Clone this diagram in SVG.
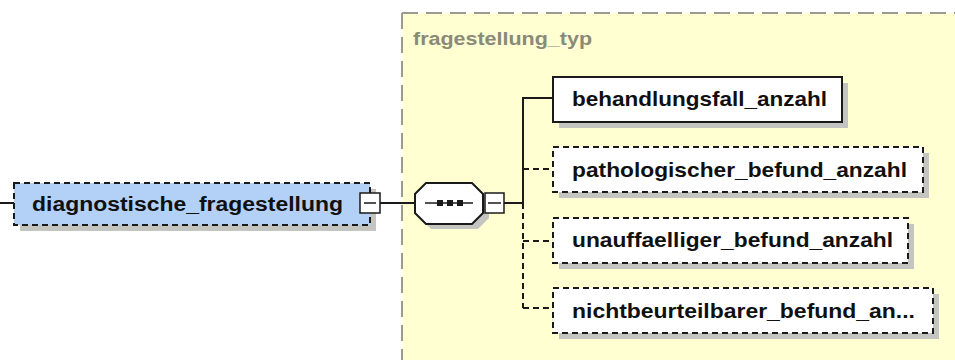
<svg xmlns="http://www.w3.org/2000/svg" width="955" height="360" viewBox="0 0 955 360">
<style>
.lbl{font-family:"Liberation Sans",Arial,sans-serif;font-weight:bold;font-size:21px;fill:#101010}
.main{font-size:20px}
.typ{font-family:"Liberation Sans",Arial,sans-serif;font-weight:bold;font-size:18px;fill:#8a8a78}
.shadow{fill:#c4c4c0}
.box{stroke:#1a1a1a;stroke-width:2}
.dash{stroke-dasharray:6,4}
.conn{stroke:#1a1a1a;stroke-width:2;fill:none}
</style>
<rect width="955" height="360" fill="#ffffff"/>
<g id="fragestellung_typ">
<rect x="402" y="13" width="560" height="360" fill="#ffffd2"/>
<line x1="402" y1="13" x2="955" y2="13" stroke="#9a9a90" stroke-width="2" stroke-dasharray="16,8"/>
<line x1="402" y1="13" x2="402" y2="360" stroke="#9a9a90" stroke-width="2" stroke-dasharray="16,8"/>
<text class="typ" x="413" y="45" textLength="179" lengthAdjust="spacingAndGlyphs">fragestellung_typ</text>
</g>
<g id="connectors">
<line class="conn" x1="0" y1="203" x2="14" y2="203"/>
<line class="conn" x1="380" y1="203" x2="415" y2="203"/>
<line class="conn" x1="504" y1="203" x2="523" y2="203"/>
<polyline class="conn" points="553,98 523,98 523,203"/>
<line class="conn dash" x1="523" y1="203" x2="523" y2="308"/>
<line class="conn dash" x1="523" y1="169" x2="553" y2="169"/>
<line class="conn dash" x1="523" y1="241" x2="553" y2="241"/>
<line class="conn dash" x1="523" y1="308" x2="553" y2="308"/>
</g>
<g id="diagnostische_fragestellung">
<rect class="shadow" x="20" y="189" width="356" height="42"/>
<rect class="box dash" x="14" y="183" width="356" height="42" fill="#b3d1f7"/>
<text class="lbl main" x="32" y="211" textLength="311" lengthAdjust="spacingAndGlyphs">diagnostische_fragestellung</text>
<rect x="360" y="193" width="20" height="20" fill="#ffffff" stroke="#1a1a1a" stroke-width="1.5"/>
<line x1="364" y1="203" x2="376" y2="203" stroke="#1a1a1a" stroke-width="1.5"/>
</g>
<g id="sequence">
<polygon class="shadow" points="431,188 478,188 489,199 489,218 478,229 431,229 420,218 420,199"/>
<polygon points="426,183 472,183 483,194 483,213 472,224 426,224 415,213 415,194" fill="#ffffff" stroke="#1a1a1a" stroke-width="2"/>
<line x1="425" y1="203" x2="473" y2="203" stroke="#1a1a1a" stroke-width="1.5"/>
<rect x="437" y="200" width="6" height="6" fill="#1a1a1a"/>
<rect x="447" y="200" width="6" height="6" fill="#1a1a1a"/>
<rect x="457" y="200" width="6" height="6" fill="#1a1a1a"/>
<rect x="485" y="193" width="19" height="20" fill="#ffffff" stroke="#1a1a1a" stroke-width="1.5"/>
<line x1="488" y1="203" x2="501" y2="203" stroke="#1a1a1a" stroke-width="1.5"/>
</g>
<g id="behandlungsfall_anzahl">
<rect class="shadow" x="559" y="83" width="289" height="45"/>
<rect class="box" x="553" y="77" width="289" height="45" fill="#ffffff"/>
<text class="lbl" x="572" y="106" textLength="255" lengthAdjust="spacingAndGlyphs">behandlungsfall_anzahl</text>
</g>
<g id="pathologischer_befund_anzahl">
<rect class="shadow" x="559" y="153" width="370" height="45"/>
<rect class="box dash" x="553" y="147" width="370" height="45" fill="#ffffff"/>
<text class="lbl" x="572" y="177" textLength="335" lengthAdjust="spacingAndGlyphs">pathologischer_befund_anzahl</text>
</g>
<g id="unauffaelliger_befund_anzahl">
<rect class="shadow" x="559" y="224" width="355" height="45"/>
<rect class="box dash" x="553" y="218" width="355" height="45" fill="#ffffff"/>
<text class="lbl" x="572" y="247" textLength="321" lengthAdjust="spacingAndGlyphs">unauffaelliger_befund_anzahl</text>
</g>
<g id="nichtbeurteilbarer_befund_anzahl">
<rect class="shadow" x="559" y="294" width="380" height="45"/>
<rect class="box dash" x="553" y="288" width="380" height="45" fill="#ffffff"/>
<text class="lbl" x="572" y="318" textLength="343" lengthAdjust="spacingAndGlyphs">nichtbeurteilbarer_befund_an...</text>
</g>
</svg>
